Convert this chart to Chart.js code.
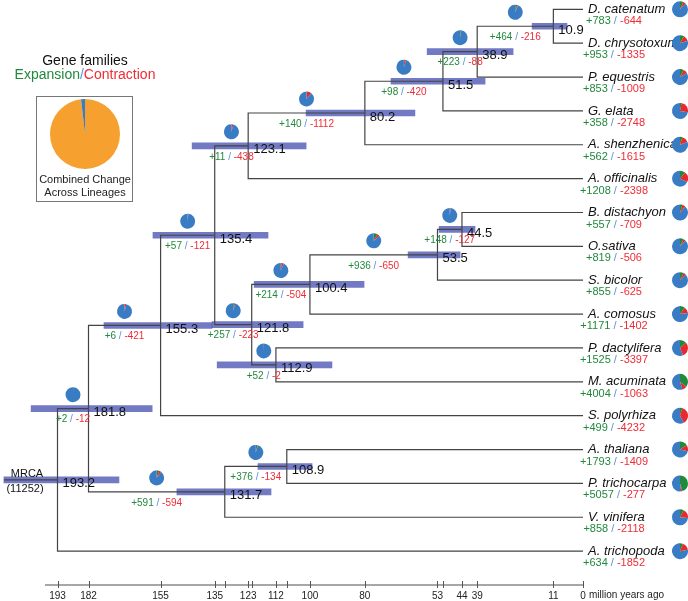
<!DOCTYPE html>
<html>
<head>
<meta charset="utf-8">
<script src="https://cdn.jsdelivr.net/npm/chart.js@4.4.1/dist/chart.umd.min.js"></script>
<style>
  html, body { margin: 0; padding: 0; background: #fff; }
  canvas { display: block; }
</style>
</head>
<body>
<canvas id="tree-chart" width="688" height="601"></canvas>
<script>
// total gene families at the root (MRCA)
const rootFamilies = 11252;

// leaves, top to bottom
const species = ['D. catenatum', 'D. chrysotoxum', 'P. equestris', 'G. elata', 'A. shenzhenica',
    'A. officinalis', 'B. distachyon', 'O.sativa', 'S. bicolor', 'A. comosus', 'P. dactylifera',
    'M. acuminata', 'S. polyrhiza', 'A. thaliana', 'P. trichocarpa', 'V. vinifera', 'A. trichopoda'];
const speciesGain = [783, 953, 853, 358, 562, 1208, 557, 819, 855, 1171, 1525, 4004, 499, 1793, 5057, 858, 634];
const speciesLoss = [644, 1335, 1009, 2748, 1615, 2398, 709, 506, 625, 1402, 3397, 1063, 4232, 1409, 277, 2118, 1852];

// internal nodes (million years ago), with their intervals and children
// children: number = leaf index, 'nK' = internal node K
const nodeAges = [10.9, 38.9, 51.5, 80.2, 123.1, 44.5, 53.5, 100.4, 112.9, 121.8, 135.4, 155.3, 108.9, 131.7, 181.8, 193.2];
const nodeLow  = [5.9, 25.7, 36.0, 61.8, 101.8, 39.7, 45.2, 80.5, 92.3, 102.9, 115.8, 136.4, 99.6, 114.7, 158.4, 170.6];
const nodeHigh = [18.7, 57.3, 70.6, 101.8, 143.7, 52.9, 64.3, 120.9, 134.5, 136.4, 158.1, 176.1, 119.5, 149.3, 202.9, 212.9];
const nodeChildren = [[0, 1], ['n0', 2], ['n1', 3], ['n2', 4], ['n3', 5], [6, 7], ['n5', 8], ['n6', 9],
    [10, 11], ['n7', 'n8'], ['n4', 'n9'], ['n10', 12], [13, 14], ['n12', 15], ['n11', 'n13'], ['n14', 16]];
// expansion / contraction on the branch leading to each node (root has none)
const nodeGain = [464, 223, 98, 140, 11, 148, 936, 214, 52, 257, 57, 6, 376, 591, 2, null];
const nodeLoss = [216, 88, 420, 1112, 438, 127, 650, 504, 2, 223, 121, 421, 134, 594, 12, null];

// legend pie: changed vs unchanged across lineages
const combinedChange = [98.2, 1.8];

// axis
const axisTicks  = [193.2, 181.8, 155.3, 135.4, 131.7, 123.1, 121.8, 112.9, 108.9, 100.4, 80.2, 53.5, 51.5, 44.5, 38.9, 10.9, 0];
const axisLabels = ['193', '182', '155', '135', '', '123', '', '112', '', '100', '80', '53', '', '44', '39', '11', '0'];
const rootStemAge = 212.8;

const FONT = '"Liberation Sans", Arial, Helvetica, sans-serif';
const GREEN = '#22883c', RED = '#ef2c35', SLASH = '#5b94d6';
const PIE_BLUE = '#3a7cc4', PIE_GREEN = '#1f8a3c', PIE_RED = '#e62a2f', PIE_ORANGE = '#f6a12f';
const LINE = '#444';

// node y = middle of its two children
const nodeY = [];
const childPos = c => typeof c === 'number'
    ? { age: 0, y: c }
    : { age: nodeAges[+c.slice(1)], y: nodeY[+c.slice(1)] };
nodeChildren.forEach((ch, i) => {
    nodeY[i] = (childPos(ch[0]).y + childPos(ch[1]).y) / 2;
});
const nodeParent = [];
nodeChildren.forEach((ch, p) => ch.forEach(c => {
    if (typeof c !== 'number') nodeParent[+c.slice(1)] = p;
}));
const rootIdx = nodeAges.length - 1;

// one elbow per branch
const branchSets = [];
nodeChildren.forEach((ch, p) => ch.forEach(c => {
    const k = childPos(c);
    branchSets.push({
        type: 'line',
        data: [{ x: nodeAges[p], y: nodeY[p] }, { x: nodeAges[p], y: k.y }, { x: k.age, y: k.y }],
        borderColor: LINE, borderWidth: 1.2, pointRadius: 0, tension: 0, fill: false, order: 1,
    });
}));
branchSets.push({
    type: 'line',
    data: [{ x: rootStemAge, y: nodeY[rootIdx] }, { x: nodeAges[rootIdx], y: nodeY[rootIdx] }],
    borderColor: LINE, borderWidth: 1.2, pointRadius: 0, tension: 0, fill: false, order: 1,
});

function drawPie(ctx, cx, cy, r, parts, colors) {
    const total = parts.reduce((a, b) => a + b, 0);
    let a0 = -Math.PI / 2;
    parts.forEach((p, i) => {
        if (p <= 0) return;
        const a1 = a0 + p / total * Math.PI * 2;
        ctx.beginPath();
        ctx.moveTo(cx, cy);
        ctx.arc(cx, cy, r, a0, a1);
        ctx.closePath();
        ctx.fillStyle = colors[i];
        ctx.fill();
        a0 = a1;
    });
}

function drawStats(ctx, cx, cy, gain, loss, size) {
    ctx.font = size + 'px ' + FONT;
    const parts = [['+' + gain, GREEN], [' / ', SLASH], ['-' + loss, RED]];
    const w = parts.reduce((s, p) => s + ctx.measureText(p[0]).width, 0);
    let xx = cx - w / 2;
    ctx.textAlign = 'left';
    ctx.textBaseline = 'middle';
    for (const [t, c] of parts) {
        ctx.fillStyle = c;
        ctx.fillText(t, xx, cy);
        xx += ctx.measureText(t).width;
    }
}

function changePie(gain, loss) {
    return [gain, loss, rootFamilies - gain - loss];
}

const treeDecor = {
    id: 'treeDecor',
    afterDatasetsDraw(chart) {
        const { ctx, scales: { x, y } } = chart;
        ctx.save();

        // time axis line and tick marks
        const axY = chart.chartArea.bottom;
        ctx.strokeStyle = '#8a8a8a';
        ctx.lineWidth = 1.5;
        ctx.beginPath();
        ctx.moveTo(45, axY);
        ctx.lineTo(x.getPixelForValue(0), axY);
        ctx.stroke();
        ctx.strokeStyle = '#555';
        ctx.lineWidth = 1;
        for (const v of axisTicks) {
            const px = Math.round(x.getPixelForValue(v)) + 0.5;
            ctx.beginPath();
            ctx.moveTo(px, axY - 4);
            ctx.lineTo(px, axY + 3);
            ctx.stroke();
        }
        ctx.fillStyle = '#222';
        ctx.font = '10px ' + FONT;
        ctx.textAlign = 'left';
        ctx.textBaseline = 'middle';
        ctx.fillText('million years ago', x.getPixelForValue(0) + 6, axY + 10);

        // node ages
        ctx.font = '13px ' + FONT;
        ctx.fillStyle = '#111';
        nodeAges.forEach((a, i) => {
            ctx.fillText(a.toFixed(1), x.getPixelForValue(a) + 5, y.getPixelForValue(nodeY[i]) + 4);
        });

        // branch pies and counts
        nodeAges.forEach((a, i) => {
            if (i === rootIdx) return;
            const px = (x.getPixelForValue(nodeAges[nodeParent[i]]) + x.getPixelForValue(a)) / 2;
            const py = y.getPixelForValue(nodeY[i]);
            drawPie(ctx, px, py - 14, 7.5, changePie(nodeGain[i], nodeLoss[i]), [PIE_GREEN, PIE_RED, PIE_BLUE]);
            drawStats(ctx, px, py + 11, nodeGain[i], nodeLoss[i], 10);
        });

        // leaves
        const leafX = x.getPixelForValue(0);
        species.forEach((s, i) => {
            const py = y.getPixelForValue(i);
            ctx.font = 'italic 13px ' + FONT;
            ctx.fillStyle = '#111';
            ctx.textAlign = 'left';
            ctx.textBaseline = 'middle';
            ctx.fillText(s, leafX + 5, py);
            drawStats(ctx, leafX + 31, py + 12, speciesGain[i], speciesLoss[i], 11);
            drawPie(ctx, 680, py, 8, changePie(speciesGain[i], speciesLoss[i]), [PIE_GREEN, PIE_RED, PIE_BLUE]);
        });

        // root label
        ctx.font = '11px ' + FONT;
        ctx.fillStyle = '#111';
        ctx.textAlign = 'center';
        const ry = y.getPixelForValue(nodeY[rootIdx]);
        ctx.fillText('MRCA', 27, ry - 6);
        ctx.fillText('(' + rootFamilies + ')', 25, ry + 9);

        // legend
        ctx.font = '14px ' + FONT;
        ctx.fillText('Gene families', 85, 61);
        const parts = [['Expansion', GREEN], ['/', SLASH], ['Contraction', RED]];
        const w = parts.reduce((s, p) => s + ctx.measureText(p[0]).width, 0);
        let lx = 85 - w / 2;
        ctx.textAlign = 'left';
        for (const [t, c] of parts) {
            ctx.fillStyle = c;
            ctx.fillText(t, lx, 75);
            lx += ctx.measureText(t).width;
        }
        ctx.strokeStyle = '#777';
        ctx.lineWidth = 1;
        ctx.strokeRect(36.5, 96.5, 96, 105);
        drawPie(ctx, 85, 134, 35, combinedChange, [PIE_ORANGE, PIE_BLUE]);
        ctx.font = '11px ' + FONT;
        ctx.fillStyle = '#222';
        ctx.textAlign = 'center';
        ctx.fillText('Combined Change', 85, 180);
        ctx.fillText('Across Lineages', 85, 193);

        ctx.restore();
    },
};

new Chart(document.getElementById('tree-chart'), {
    type: 'bar',
    data: {
        datasets: [
            {
                type: 'bar',
                label: 'Divergence interval',
                indexAxis: 'y',
                data: nodeAges.map((a, i) => ({ y: nodeY[i], x: [nodeLow[i], nodeHigh[i]] })),
                backgroundColor: 'rgba(60, 72, 173, 0.73)',
                barThickness: 6,
                order: 2,
            },
            ...branchSets,
        ],
    },
    options: {
        responsive: false,
        animation: false,
        layout: { padding: 0 },
        plugins: {
            legend: { display: false },
            tooltip: { enabled: false },
        },
        scales: {
            x: {
                type: 'linear',
                offset: false,
                reverse: true,
                min: -38.6,
                max: 214.34,
                position: 'bottom',
                afterFit: s => { s.height = 16; s.paddingLeft = 0; s.paddingRight = 0; },
                afterBuildTicks: s => { s.ticks = axisTicks.map(v => ({ value: v })); },
                grid: { display: false, drawTicks: false, offset: false },
                border: { display: false },
                ticks: {
                    autoSkip: false, maxRotation: 0, padding: 5,
                    color: '#222', font: { size: 10, family: FONT },
                    callback: (v, i) => axisLabels[i],
                },
            },
            y: { type: 'linear', offset: false, reverse: true, min: -0.2747, max: 17.0, display: false },
        },
    },
    plugins: [treeDecor],
});
</script>
</body>
</html>
